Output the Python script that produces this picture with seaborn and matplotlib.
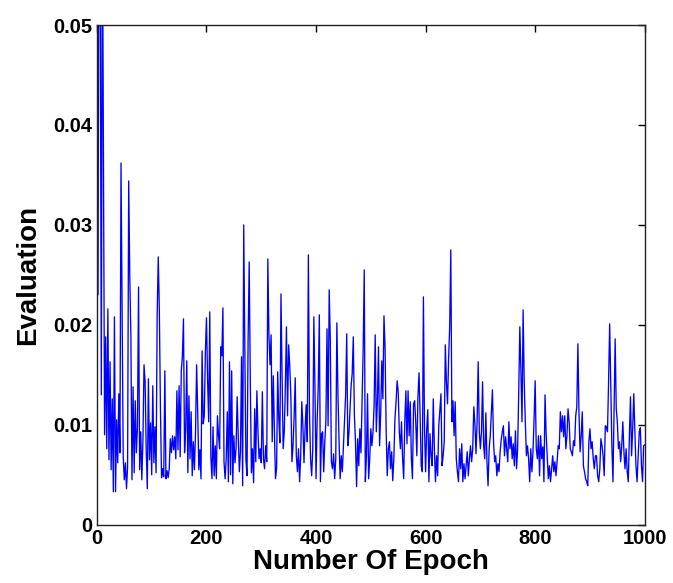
import numpy as np
import pandas as pd
import seaborn as sns
import matplotlib
matplotlib.use("Agg")
import matplotlib.pyplot as plt

# values, one every 2 epochs
eval_0_200 = [
    0.023, 0.068, 0.058, 0.013, 0.062, 0.0367, 0.009, 0.0188, 0.0076, 0.0216,
    0.0065, 0.0163, 0.0055, 0.0126, 0.0033, 0.0208, 0.0033, 0.0105, 0.0062, 0.0131,
    0.0072, 0.0362, 0.0221, 0.0068, 0.0045, 0.0062, 0.0036, 0.0058, 0.0344, 0.0248,
    0.0189, 0.0045, 0.0138, 0.0052, 0.0124, 0.0072, 0.0098, 0.0238, 0.0055, 0.0093,
    0.0045, 0.0085, 0.016, 0.0143, 0.0075, 0.0036, 0.0146, 0.0065, 0.0102, 0.005,
    0.0139, 0.0062, 0.0098, 0.0052, 0.021, 0.0268, 0.0213, 0.0114, 0.0047, 0.0056,
    0.0048, 0.0154, 0.0046, 0.0054, 0.0047, 0.0056, 0.0086, 0.0072, 0.0089, 0.0075,
    0.0088, 0.0066, 0.0134, 0.0075, 0.0139, 0.0068, 0.0154, 0.0168, 0.0206, 0.0072,
    0.0095, 0.0164, 0.0052, 0.0129, 0.0066, 0.0113, 0.0049, 0.0083, 0.0055, 0.0093,
    0.016, 0.0113, 0.0055, 0.0075, 0.0046, 0.0174, 0.0101, 0.0109, 0.0173, 0.0207,
]
eval_200_400 = [
    0.0146, 0.0103, 0.0213, 0.0068, 0.0046, 0.0098, 0.0049, 0.0079, 0.0046, 0.0109,
    0.0089, 0.0076, 0.0178, 0.0169, 0.0217, 0.0063, 0.0046, 0.0066, 0.0113, 0.0043,
    0.0163, 0.005, 0.0154, 0.0041, 0.0089, 0.0062, 0.0076, 0.0128, 0.0088, 0.0053,
    0.0073, 0.0168, 0.0039, 0.030, 0.0176, 0.0065, 0.0049, 0.0186, 0.0263, 0.0143,
    0.0052, 0.0076, 0.0042, 0.0116, 0.0063, 0.0134, 0.0093, 0.0066, 0.0076, 0.0062,
    0.0133, 0.0066, 0.0056, 0.0079, 0.0063, 0.0266, 0.019, 0.016, 0.019, 0.0083,
    0.0149, 0.0093, 0.0046, 0.0056, 0.0153, 0.0106, 0.0082, 0.0231, 0.0149, 0.0076,
    0.0093, 0.0139, 0.0198, 0.0109, 0.018, 0.0159, 0.0129, 0.0063, 0.0079, 0.0109,
    0.0147, 0.0069, 0.0053, 0.0076, 0.0043, 0.0069, 0.0123, 0.0099, 0.0062, 0.0096,
    0.012, 0.0083, 0.027, 0.0113, 0.0066, 0.0049, 0.0076, 0.0208, 0.0139, 0.0046,
]
eval_400_600 = [
    0.0104, 0.0138, 0.021, 0.0043, 0.0091, 0.0093, 0.0053, 0.0083, 0.0104, 0.0196,
    0.0099, 0.0235, 0.0185, 0.0063, 0.0056, 0.0071, 0.0046, 0.0066, 0.0202, 0.0131,
    0.0084, 0.0046, 0.0069, 0.0053, 0.0079, 0.0104, 0.013, 0.0191, 0.0079, 0.0091,
    0.0116, 0.0139, 0.0151, 0.0188, 0.0109, 0.0083, 0.0038, 0.0086, 0.0059, 0.0096,
    0.0072, 0.0121, 0.0174, 0.0255, 0.0043, 0.0069, 0.0131, 0.0046, 0.0066, 0.0096,
    0.0079, 0.0093, 0.0119, 0.019, 0.0093, 0.0124, 0.0178, 0.0079, 0.0111, 0.0164,
    0.0126, 0.0209, 0.0177, 0.0093, 0.0049, 0.0076, 0.0083, 0.0056, 0.0073, 0.0044,
    0.0066, 0.0106, 0.0122, 0.0144, 0.0133, 0.0093, 0.0076, 0.0103, 0.0066, 0.0046,
    0.0103, 0.0134, 0.0081, 0.0134, 0.0089, 0.0123, 0.0066, 0.0046, 0.0121, 0.0124,
    0.0103, 0.0069, 0.0128, 0.0152, 0.0109, 0.0059, 0.0053, 0.0228, 0.0096, 0.0053,
]
eval_600_800 = [
    0.0096, 0.0115, 0.0043, 0.0091, 0.0069, 0.0059, 0.0126, 0.0076, 0.0043, 0.0069,
    0.0049, 0.0099, 0.0114, 0.0131, 0.0059, 0.0069, 0.0083, 0.018, 0.0143, 0.0121,
    0.0166, 0.0199, 0.0275, 0.0103, 0.0124, 0.0089, 0.0123, 0.0066, 0.0053, 0.0043,
    0.0076, 0.0056, 0.0081, 0.0043, 0.0061, 0.0046, 0.0059, 0.0073, 0.0049, 0.0066,
    0.0079, 0.0063, 0.0076, 0.0118, 0.0101, 0.0071, 0.0103, 0.0163, 0.0093, 0.0076,
    0.0093, 0.0143, 0.0079, 0.0066, 0.0112, 0.0063, 0.0039, 0.0076, 0.0089, 0.0113,
    0.0135, 0.0083, 0.0063, 0.0069, 0.0049, 0.0061, 0.0053, 0.0073, 0.0085, 0.0093,
    0.0099, 0.0069, 0.0088, 0.0076, 0.0063, 0.0103, 0.0076, 0.0088, 0.0066, 0.0081,
    0.0059, 0.0094, 0.0056, 0.0076, 0.0133, 0.0198, 0.0153, 0.0103, 0.0215, 0.0143,
    0.0103, 0.0069, 0.0079, 0.0066, 0.0043, 0.0076, 0.0053, 0.0073, 0.0106, 0.0144,
]
eval_800_1000 = [
    0.0076, 0.0066, 0.0089, 0.0049, 0.0089, 0.0066, 0.0078, 0.0043, 0.013, 0.0091,
    0.0069, 0.0046, 0.0059, 0.0043, 0.0056, 0.0069, 0.0053, 0.0063, 0.0049, 0.0063,
    0.0079, 0.0076, 0.0113, 0.0093, 0.0109, 0.0088, 0.0109, 0.0076, 0.0089, 0.0116,
    0.0103, 0.0076, 0.0073, 0.0069, 0.0084, 0.0079, 0.0109, 0.0118, 0.0181, 0.0111,
    0.0073, 0.0089, 0.0113, 0.0059, 0.0053, 0.0046, 0.0043, 0.0039, 0.0083, 0.0096,
    0.0076, 0.0083, 0.0066, 0.0056, 0.0069, 0.0069, 0.0049, 0.0043, 0.0056, 0.0086,
    0.0079, 0.0069, 0.0049, 0.0099, 0.0098, 0.0093, 0.0143, 0.0201, 0.0141, 0.0079,
    0.0043, 0.0118, 0.0186, 0.0116, 0.0103, 0.0076, 0.0083, 0.0063, 0.0079, 0.0103,
    0.0073, 0.0056, 0.0076, 0.0053, 0.0043, 0.0089, 0.0128, 0.0069, 0.0096, 0.0131,
    0.0093, 0.0059, 0.0043, 0.0069, 0.0093, 0.0097, 0.0059, 0.0043, 0.0079, 0.008,
]

evaluation = eval_0_200 + eval_200_400 + eval_400_600 + eval_600_800 + eval_800_1000
epochs = np.arange(2, 1001, 2)

x_ticks = [0, 200, 400, 600, 800, 1000]
y_ticks = [0, 0.01, 0.02, 0.03, 0.04, 0.05]
y_ticklabels = ["0", "0.01", "0.02", "0.03", "0.04", "0.05"]

df = pd.DataFrame({"epoch": epochs, "evaluation": evaluation})

sns.set_style("white")
plt.rcParams["font.family"] = ["Liberation Sans", "DejaVu Sans"]
plt.rcParams["font.weight"] = "bold"
plt.rcParams["text.color"] = "black"
plt.rcParams["axes.labelcolor"] = "black"
plt.rcParams["xtick.color"] = "black"
plt.rcParams["ytick.color"] = "black"

fig = plt.figure(figsize=(6.73, 5.83), dpi=100)
ax = fig.add_axes([0.144, 0.1, 0.814, 0.857])

sns.lineplot(data=df, x="epoch", y="evaluation", color="#0000ff",
             linewidth=0.95, estimator=None, ax=ax)

ax.set_xlim(0, 1000)
ax.set_ylim(0, 0.05)
ax.set_xticks(x_ticks)
ax.set_xticklabels([str(t) for t in x_ticks])
ax.set_yticks(y_ticks)
ax.set_yticklabels(y_ticklabels)
ax.tick_params(direction="in", length=5, width=1, top=True, right=True,
               labelsize=14.5, pad=3, colors="black")
for lab in ax.get_xticklabels() + ax.get_yticklabels():
    lab.set_fontweight("bold")
for sp in ax.spines.values():
    sp.set_visible(True)
    sp.set_color("#222222")
    sp.set_linewidth(1)

ax.set_xlabel("Number Of Epoch", fontsize=20, fontweight="bold", labelpad=1)
ax.set_ylabel("Evaluation", fontsize=20, fontweight="bold", labelpad=9)

fig.savefig("out.png", dpi=100, facecolor="white")
